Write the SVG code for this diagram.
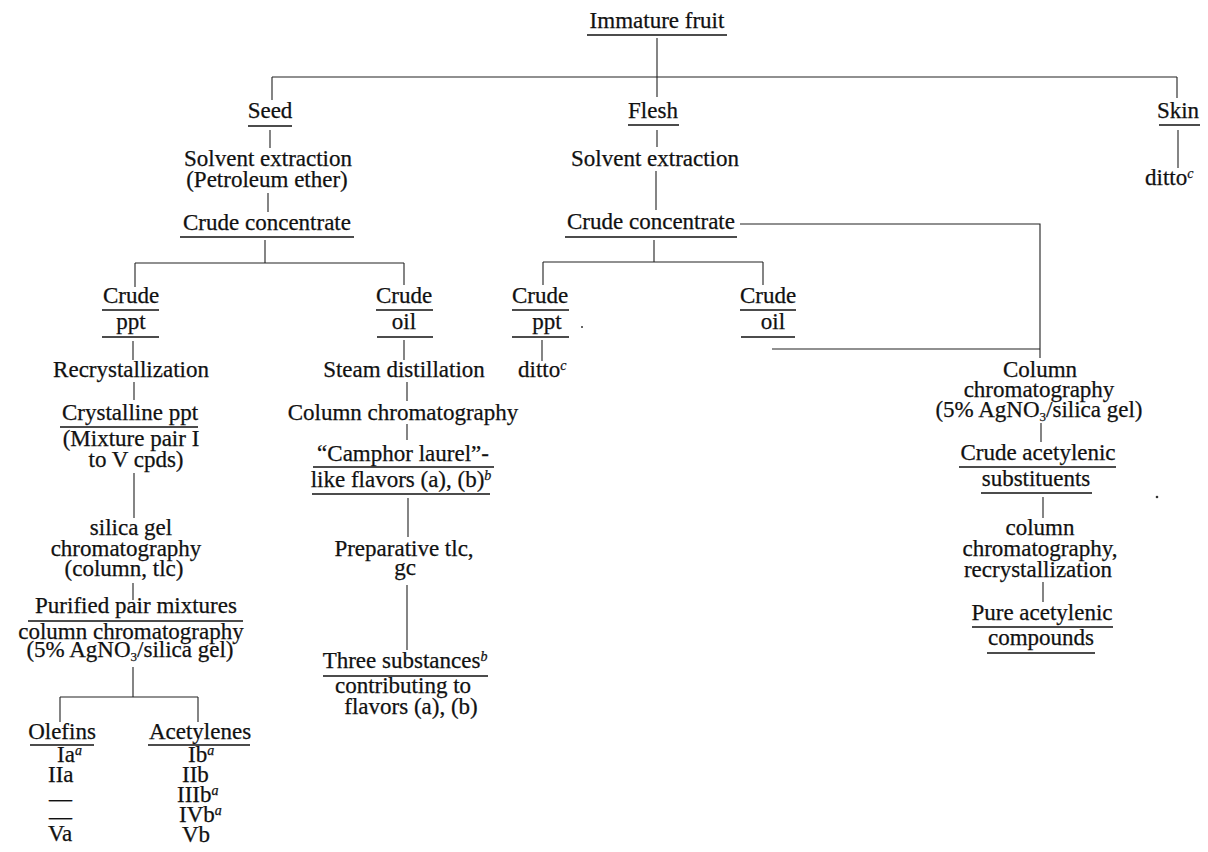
<svg xmlns="http://www.w3.org/2000/svg" width="1208" height="852" viewBox="0 0 1208 852">
<style>
text{font-family:"Liberation Serif","Times New Roman",serif;font-size:23px;fill:#111;stroke:#111;stroke-width:0.25;text-anchor:middle}
.s{text-anchor:start}
.sup{font-size:14px;font-style:italic}
.sub{font-size:13px}
.u{stroke:#111;stroke-width:1.4;fill:none}
#connectors path{stroke:#222;stroke-width:1.1;fill:none}
</style>
<rect width="1208" height="852" fill="#fff"/>
<g id="connectors">
<path d="M657 38V77M272 77H1177M272 77V100M657 77V97M1177 77V98"/>
<path d="M270 130V148M268 193V212M265 240V263M135 263H404M135 263V287M404 263V285"/>
<path d="M133 341V360M134 382V400M134 473V518M133 583V600M133 667V697M60 697H198M60 697V722M198 697V722"/>
<path d="M404 340V360M407 382V401M407 424V440M408 498V537M407 585V650"/>
<path d="M657 130V147M656 171V210M654 240V262M543 262H763M543 262V285M763 262V285M542 340V361"/>
<path d="M740 224H1040V358M772 349H1040M1041 423V442M1043 497V518M1043 582V602M1178 130V168"/>
</g>
<g id="fruit"><text x="657" y="28">Immature fruit</text><path class="u" d="M587 35H727"/></g>
<g id="seed"><text x="270" y="118">Seed</text><path class="u" d="M248 126H292"/></g>
<g id="seed-solvent"><text x="268" y="166">Solvent extraction</text><text x="267" y="187">(Petroleum ether)</text></g>
<g id="seed-concentrate"><text x="267" y="230">Crude concentrate</text><path class="u" d="M180 237H354"/></g>
<g id="seed-ppt"><text x="131" y="303">Crude</text><path class="u" d="M102 310H159"/><text x="131" y="329">ppt</text><path class="u" d="M102 337H159"/></g>
<g id="recrystallization"><text x="131" y="377">Recrystallization</text></g>
<g id="crystalline-ppt"><text x="130" y="420">Crystalline ppt</text><path class="u" d="M60 427H198"/><text x="131" y="446">(Mixture pair I</text><text x="136" y="467">to V cpds)</text></g>
<g id="silica-chrom"><text x="131" y="535">silica gel</text><text x="126" y="556">chromatography</text><text x="124" y="576">(column, tlc)</text></g>
<g id="purified"><text x="136" y="613">Purified pair mixtures</text><path class="u" d="M28 621H243"/><text x="131" y="639">column chromatography</text><text x="130" y="657">(5% AgNO<tspan class="sub" dy="4">3</tspan><tspan dy="-4">/silica gel)</tspan></text></g>
<g id="olefins"><text x="62" y="739">Olefins</text><path class="u" d="M30 745H94"/>
<text class="s" x="57" y="762">Ia<tspan class="sup" dy="-7">a</tspan></text>
<text class="s" x="48" y="782">IIa</text>
<text class="s" x="49" y="806">—</text>
<text class="s" x="49" y="824">—</text>
<text class="s" x="48" y="841">Va</text></g>
<g id="acetylenes"><text x="200" y="739">Acetylenes</text><path class="u" d="M148 745H250"/>
<text class="s" x="188" y="762">Ib<tspan class="sup" dy="-7">a</tspan></text>
<text class="s" x="182" y="782">IIb</text>
<text class="s" x="177" y="802">IIIb<tspan class="sup" dy="-7">a</tspan></text>
<text class="s" x="179" y="822">IVb<tspan class="sup" dy="-7">a</tspan></text>
<text class="s" x="182" y="842">Vb</text></g>
<g id="seed-oil"><text x="404" y="303">Crude</text><path class="u" d="M376 310H433"/><text x="404" y="329">oil</text><path class="u" d="M377 337H433"/></g>
<g id="steam"><text x="404" y="377">Steam distillation</text></g>
<g id="column-chrom"><text x="403" y="420">Column chromatography</text></g>
<g id="camphor"><text x="403" y="461">“Camphor laurel”-</text><path class="u" d="M313 467H494"/><text x="401" y="487">like flavors (a), (b)<tspan class="sup" dy="-7">b</tspan></text><path class="u" d="M312 494H490"/></g>
<g id="preparative"><text x="404" y="556">Preparative tlc,</text><text x="405" y="575">gc</text></g>
<g id="three"><text x="405" y="668">Three substances<tspan class="sup" dy="-7">b</tspan></text><path class="u" d="M323 676H488"/><text x="403" y="693">contributing to</text><text x="411" y="714">flavors (a), (b)</text></g>
<g id="flesh"><text x="653" y="118">Flesh</text><path class="u" d="M628 125H679"/></g>
<g id="flesh-solvent"><text x="655" y="166">Solvent extraction</text></g>
<g id="flesh-concentrate"><text x="651" y="229">Crude concentrate</text><path class="u" d="M565 237H737"/></g>
<g id="flesh-ppt"><text x="540" y="303">Crude</text><path class="u" d="M512 310H569"/><text x="547" y="329">ppt</text><path class="u" d="M512 337H569"/></g>
<g id="flesh-ditto"><text class="s" x="518" y="377">ditto<tspan class="sup" dy="-7">c</tspan></text></g>
<g id="flesh-oil"><text x="768" y="303">Crude</text><path class="u" d="M740 310H796"/><text x="773" y="329">oil</text><path class="u" d="M741 337H795"/></g>
<g id="agno3-column"><text x="1040" y="377">Column</text><text x="1039" y="397">chromatography</text><text x="1039" y="417">(5% AgNO<tspan class="sub" dy="4">3</tspan><tspan dy="-4">/silica gel)</tspan></text></g>
<g id="crude-acetylenic"><text x="1038" y="460">Crude acetylenic</text><path class="u" d="M959 467H1116"/><text x="1036" y="486">substituents</text><path class="u" d="M981 493H1092"/></g>
<g id="column-recryst"><text x="1040" y="535">column</text><text x="1040" y="556">chromatography,</text><text x="1038" y="577">recrystallization</text></g>
<g id="pure"><text x="1042" y="620">Pure acetylenic</text><path class="u" d="M972 627H1113"/><text x="1041" y="645">compounds</text><path class="u" d="M987 653H1095"/></g>
<g id="skin"><text x="1178" y="118">Skin</text><path class="u" d="M1159 125H1200"/></g>
<g id="skin-ditto"><text class="s" x="1145" y="185">ditto<tspan class="sup" dy="-7">c</tspan></text></g>
<circle cx="582" cy="327" r="1" fill="#333"/>
<circle cx="1157" cy="497" r="1.3" fill="#333"/>
</svg>
